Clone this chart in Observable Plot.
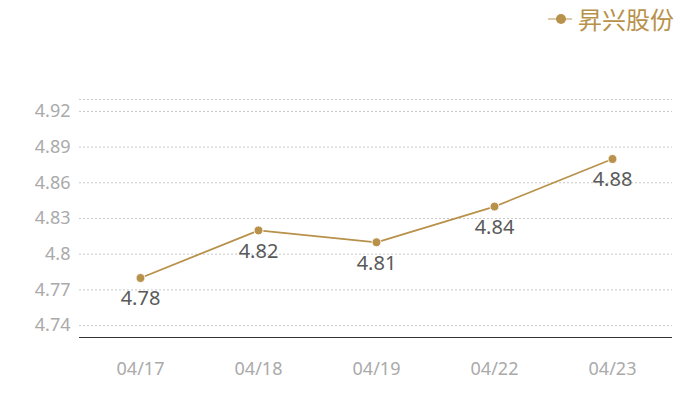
<!DOCTYPE html>
<html><head><meta charset="utf-8">
<script src="https://cdn.jsdelivr.net/npm/d3@7"></script>
<script src="https://cdn.jsdelivr.net/npm/@observablehq/plot@0.6"></script>
<style>
body{margin:0;background:#fff;font-family:"Noto Sans","Noto Sans CJK SC",sans-serif;}
#wrap{position:relative;width:700px;height:400px;}
#legend{position:absolute;top:1px;left:548px;display:flex;align-items:center;color:#b8914a;font-size:24px;font-family:"Noto Sans CJK SC",sans-serif;}
#legend svg{margin-right:6px;}
</style></head><body>
<div id="wrap"><div id="legend"><svg width="24" height="20"><line x1="0" y1="10" x2="24" y2="10" stroke="#c9a877" stroke-width="1.2"/><circle cx="13" cy="10" r="5" fill="#b8914a"/></svg><span>昇兴股份</span></div></div>
<script>
const dates = ["04/17","04/18","04/19","04/22","04/23"];
const values = [4.78, 4.82, 4.81, 4.84, 4.88];
const yTicks = [4.74, 4.77, 4.80, 4.83, 4.86, 4.89, 4.92];
const gridLines = [4.74, 4.77, 4.80, 4.83, 4.86, 4.89, 4.92, 4.93];
const seriesName = "昇兴股份";
const data = dates.map((d, i) => ({date: d, value: values[i]}));
const fmt = v => String(+v.toFixed(2));
const color = "#b8914a";
const chart = Plot.plot({
  width: 700, height: 400,
  marginLeft: 79, marginRight: 28, marginTop: 99, marginBottom: 63,
  style: {fontFamily: "'Noto Sans', sans-serif", background: "transparent"},
  x: {type: "point", domain: dates, padding: 0.5, label: null},
  y: {domain: [4.73, 4.93], label: null},
  marks: [
    Plot.ruleY(gridLines, {stroke: "#c8c8c8", strokeDasharray: "2,2", strokeWidth: 1}),
    Plot.ruleY([4.73], {stroke: "#333", strokeWidth: 1}),
    Plot.axisY({ticks: yTicks, tickFormat: fmt, tickSize: 0, tickPadding: 9, fontSize: 18, color: "#aaa", label: null}),
    Plot.axisX({tickSize: 0, tickPadding: 25, fontSize: 18, color: "#aaa", label: null}),
    Plot.line(data, {x: "date", y: "value", stroke: color, strokeWidth: 1.8}),
    Plot.dot(data, {x: "date", y: "value", fill: color, r: 4.5, stroke: "white", strokeWidth: 1}),
    Plot.text(data, {x: "date", y: "value", text: d => fmt(d.value), dy: 21, fontSize: 20, fill: "#595959"})
  ]
});
document.getElementById("wrap").prepend(chart);
</script>
</body></html>
